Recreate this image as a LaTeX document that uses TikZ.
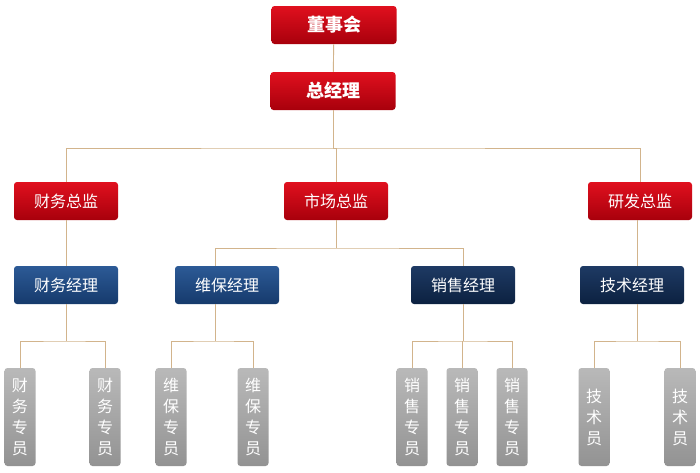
\documentclass[tikz,border=0pt]{standalone}
\usepackage{fontspec}
\newfontfamily\cjk{Noto Sans CJK SC}
\definecolor{redA}{HTML}{E0101E}\definecolor{redB}{HTML}{A8000C}
\definecolor{bluA}{HTML}{2C5A96}\definecolor{bluB}{HTML}{163A6C}
\definecolor{navA}{HTML}{1E3A64}\definecolor{navB}{HTML}{0C2140}
\definecolor{ln}{HTML}{D2B48C}
\begin{document}
\begin{tikzpicture}[x=1pt,y=-1pt,
 redbox/.style={rounded corners=3pt,top color=redA,bottom color=redB,text=white,minimum width=125pt,minimum height=38pt,font=\cjk\bfseries\fontsize{18}{18}\selectfont},
 red2/.style={rounded corners=3pt,top color=redA,bottom color=redB,text=white,minimum width=104pt,minimum height=38pt,font=\cjk\fontsize{16}{16}\selectfont},
 bluebox/.style={rounded corners=3pt,top color=bluA,bottom color=bluB,text=white,minimum width=104pt,minimum height=38pt,font=\cjk\fontsize{16}{16}\selectfont},
 navbox/.style={bluebox,top color=navA,bottom color=navB},
 staff/.style={rounded corners=3pt,top color=gray!55,bottom color=gray!85,text=white,minimum width=31pt,minimum height=98pt,align=center,font=\cjk\fontsize{16}{21}\selectfont,inner sep=0pt},
 conn/.style={draw=ln,line width=0.9pt}]
\fill[white] (0,0) rectangle (700,472);
\node[redbox] (dsh) at (334,25) {董事会};
\node[redbox] (zjl) at (333,91) {总经理};
\node[red2] (cw) at (66,201) {财务总监};
\node[red2] (sc) at (336,201) {市场总监};
\node[red2] (yf) at (640,201) {研发总监};
\node[bluebox] (cwj) at (66,285) {财务经理};
\node[bluebox] (wb) at (227,285) {维保经理};
\node[navbox] (xs) at (463,285) {销售经理};
\node[navbox] (js) at (632,285) {技术经理};
\foreach \n/\x/\t in {s1/20/{财\\务\\专\\员},s2/105/{财\\务\\专\\员},s3/171/{维\\保\\专\\员},s4/253/{维\\保\\专\\员},s5/412/{销\\售\\专\\员},s6/462/{销\\售\\专\\员},s7/512/{销\\售\\专\\员},s8/594/{技\\术\\员},s9/680/{技\\术\\员}}
  \node[staff] (\n) at (\x,417) {\t};
\coordinate (t1) at (333,148);
\coordinate (t2) at (336,248);
\coordinate (t3) at (66,341);
\coordinate (t4) at (215,341);
\coordinate (t5) at (463,341);
\coordinate (t6) at (637,341);
\draw[conn] (dsh) -- (zjl);
\draw[conn] (zjl.south) -- (t1);
\draw[conn] (cw.north) |- (t1) -| (yf.north);
\draw[conn] (t1) -| (sc.north);
\draw[conn] (sc.south) -- (t2);
\draw[conn] (wb.north -| t4) |- (t2) -| (xs.north);
\draw[conn] (cw) -- (cwj);
\draw[conn] (yf.south -| t6) -- (js.north -| t6);
\draw[conn] (cwj.south) -- (t3);
\draw[conn] (s1.north) |- (t3) -| (s2.north);
\draw[conn] (wb.south -| t4) -- (t4);
\draw[conn] (s3.north) |- (t4) -| (s4.north);
\draw[conn] (xs.south) -- (t5);
\draw[conn] (s5.north) |- (t5) -| (s7.north);
\draw[conn] (t5 -| s6.north) -- (s6.north);
\draw[conn] (js.south -| t6) -- (t6);
\draw[conn] (s8.north) |- (t6) -| (s9.north);
\end{tikzpicture}
\end{document}
